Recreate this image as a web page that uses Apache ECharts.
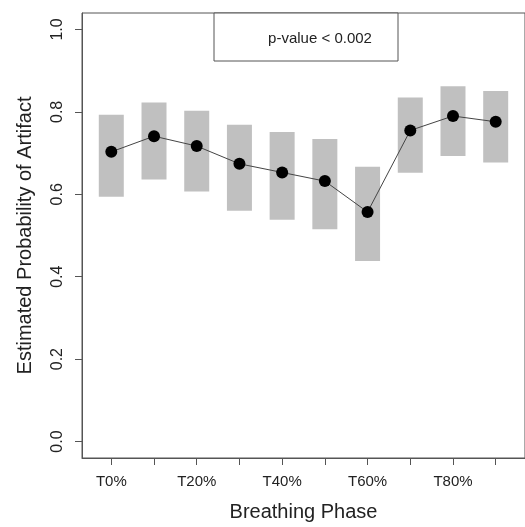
<!DOCTYPE html>
<html>
<head>
<meta charset="utf-8">
<script src="https://cdn.jsdelivr.net/npm/echarts@6/dist/echarts.min.js"></script>
<style>
html, body { margin: 0; padding: 0; background: #fff; }
#main { width: 525px; height: 527px; }
</style>
</head>
<body>
<div id="main"></div>
<script>
// breathing phases (T0% .. T90%)
var phases = ['T0%', 'T10%', 'T20%', 'T30%', 'T40%', 'T50%', 'T60%', 'T70%', 'T80%', 'T90%'];
// estimated probability (points)
var estimate = [0.703, 0.741, 0.717, 0.674, 0.653, 0.632, 0.557, 0.755, 0.790, 0.776];
// interval low / high (grey bars)
var lower = [0.594, 0.636, 0.607, 0.560, 0.538, 0.515, 0.438, 0.652, 0.693, 0.677];
var upper = [0.793, 0.823, 0.803, 0.769, 0.751, 0.734, 0.667, 0.835, 0.862, 0.851];
var yTicks = [0, 0.2, 0.4, 0.6, 0.8, 1.0];
var xLabelIdx = [0, 2, 4, 6, 8];
var pText = 'p-value < 0.002';

var font = 'Liberation Sans, Arial, Helvetica, sans-serif';
var idx = phases.map(function (p, i) { return i; });

var barData = [];
var pointData = [];
for (var i = 0; i < phases.length; i++) {
	barData.push([i, lower[i], upper[i]]);
	pointData.push([i, estimate[i]]);
}

var myChart = echarts.init(document.getElementById('main'));
myChart.setOption({
	animation: false,
	backgroundColor: '#fff',
	grid: {
		left: 82, top: 13, right: -6, bottom: 65,
		show: true, borderColor: '#555', borderWidth: 1
	},
	xAxis: {
		type: 'value',
		min: -0.686,
		max: 9.686,
		name: 'Breathing Phase',
		nameLocation: 'middle',
		nameGap: 44,
		nameTextStyle: { fontFamily: font, fontSize: 20, color: '#222' },
		axisLine: { show: true, onZero: false, lineStyle: { color: '#555' } },
		axisTick: { show: true, length: 7, customValues: idx, lineStyle: { color: '#555' } },
		axisLabel: {
			customValues: xLabelIdx,
			margin: 16,
			fontFamily: font, fontSize: 15, color: '#222',
			formatter: function (v) { return phases[Math.round(v)]; }
		},
		splitLine: { show: false }
	},
	yAxis: {
		type: 'value',
		min: -0.04,
		max: 1.04,
		name: 'Estimated Probability of Artifact',
		nameLocation: 'middle',
		nameRotate: 90,
		nameGap: 47,
		nameTextStyle: { fontFamily: font, fontSize: 20, color: '#222' },
		axisLine: { show: true, onZero: false, lineStyle: { color: '#555' } },
		axisTick: { show: true, length: 7, customValues: yTicks, lineStyle: { color: '#555' } },
		axisLabel: {
			customValues: yTicks,
			rotate: 90,
			margin: 16,
			fontFamily: font, fontSize: 16, color: '#222',
			formatter: function (v) { return v.toFixed(1); }
		},
		splitLine: { show: false }
	},
	series: [
		{
			type: 'custom',
			name: 'interval',
			data: barData,
			renderItem: function (params, api) {
				var lo = api.coord([api.value(0), api.value(1)]);
				var hi = api.coord([api.value(0), api.value(2)]);
				var w = 25;
				return {
					type: 'rect',
					shape: { x: lo[0] - w / 2, y: hi[1], width: w, height: lo[1] - hi[1] },
					style: { fill: '#c0c0c0' }
				};
			},
			z: 1
		},
		{
			type: 'line',
			name: 'estimate',
			data: pointData,
			symbol: 'circle',
			symbolSize: 12,
			itemStyle: { color: '#000' },
			lineStyle: { color: '#444', width: 1 },
			z: 3
		}
	],
	graphic: [
		{
			type: 'rect',
			shape: { x: 214, y: 13, width: 184, height: 48 },
			style: { fill: '#fff', stroke: '#555', lineWidth: 1 },
			z: 10
		},
		{
			type: 'text',
			x: 320, y: 39,
			style: {
				text: pText,
				fontFamily: font, fontSize: 15, fill: '#222',
				align: 'center', verticalAlign: 'middle'
			},
			z: 11
		}
	]
});
</script>
</body>
</html>
